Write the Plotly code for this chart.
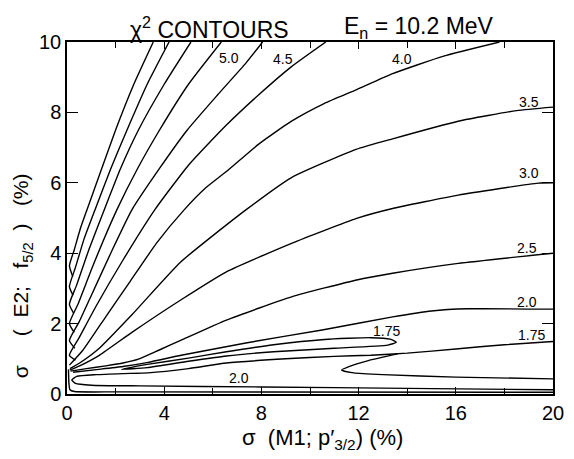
import plotly.graph_objects as go

# ---------------- data ----------------
x_ticks = [0, 4, 8, 12, 16, 20]
x_minor = [2, 6, 10, 14, 18]
y_ticks = [0, 2, 4, 6, 8, 10]

# fan contours: short lower arm -> tip near the y axis -> upper arm to the frame edge
c_a_x = [0.24, 0.1, 0.3, 0.55, 0.82, 1.4, 2.0, 2.75, 3.55]
c_a_y = [3.33, 3.64, 4.1, 4.7, 5.23, 6.35, 7.5, 8.8, 10.0]
c_b_x = [0.25, 0.1, 0.35, 0.7, 1.15, 1.8, 2.47, 3.3, 4.2]
c_b_y = [2.8, 3.05, 3.6, 4.4, 5.23, 6.4, 7.5, 8.8, 10.0]
c_c_x = [0.27, 0.1, 0.4, 0.9, 1.53, 2.2, 2.94, 4.0, 5.1]
c_c_y = [2.3, 2.55, 3.1, 4.1, 5.23, 6.4, 7.5, 8.8, 10.0]
c_d_x = [0.3, 0.1, 0.45, 1.1, 2.05, 2.9, 3.81, 5.0, 6.35]
c_d_y = [1.75, 2.0, 2.55, 3.7, 5.23, 6.4, 7.5, 8.8, 10.0]
c50_x = [0.32, 0.1, 0.5, 1.0, 1.8, 2.67, 3.8, 4.95, 6.2, 7.36, 8.05]
c50_y = [1.3, 1.52, 2.05, 2.8, 4.0, 5.23, 6.4, 7.5, 8.5, 9.4, 10.0]
c45_x = [0.35, 0.1, 0.5, 1.2, 2.3, 3.61, 5.0, 6.56, 7.89, 9.24, 10.65]
c45_y = [0.96, 1.1, 1.6, 2.5, 3.8, 5.23, 6.5, 7.64, 8.5, 9.3, 10.0]
c40_x = [0.1, 0.66, 1.6, 2.6, 3.7, 4.82, 5.7, 6.56, 7.89, 9.24, 10.58, 11.9, 13.4, 15.5, 17.8]
c40_y = [0.82, 1.25, 2.2, 3.2, 4.3, 5.23, 5.85, 6.32, 7.1, 7.75, 8.25, 8.64, 9.1, 9.6, 10.0]
c35_x = [0.12, 0.52, 1.33, 2.67, 4.68, 7.36, 9.24, 11.9, 13.4, 16.1, 18.5, 20.0]
c35_y = [0.72, 0.88, 1.3, 2.25, 3.75, 5.23, 6.15, 6.95, 7.25, 7.75, 8.05, 8.15]
c30_x = [0.12, 0.52, 1.33, 2.67, 4.68, 6.56, 9.24, 11.92, 13.4, 16.1, 19.4, 20.0]
c30_y = [0.68, 0.8, 1.1, 1.75, 2.67, 3.47, 4.28, 4.99, 5.27, 5.65, 5.99, 6.0]
c25_x = [0.15, 0.8, 1.6, 2.3, 2.94, 3.8, 4.7, 6.56, 9.24, 11.92, 13.4, 16.1, 20.0]
c25_y = [0.65, 0.72, 0.8, 0.88, 0.99, 1.25, 1.53, 2.1, 2.76, 3.24, 3.43, 3.71, 4.0]
c20_x = [0.25, 1.3, 2.3, 3.34, 4.7, 7.36, 10.5, 13.4, 15.0, 16.5, 20.0]
c20_y = [0.62, 0.7, 0.78, 0.9, 1.1, 1.45, 1.82, 2.19, 2.36, 2.42, 2.41]

# 1.75 closed island (thin sliver)
isl_x = [2.25, 3.3, 5.0, 6.56, 8.5, 10.6, 12.5, 13.3, 13.55, 13.2, 11.0, 8.5, 6.56, 5.0, 3.3, 2.25]
isl_y = [0.7, 0.84, 1.02, 1.2, 1.4, 1.55, 1.6, 1.56, 1.47, 1.39, 1.3, 1.2, 1.08, 0.93, 0.75, 0.7]
# 1.75 open region at right: tip, lower arm to the right edge, upper arm joining the long line
isr_x = [13.6, 12.4, 11.6, 11.3, 11.8, 13.0, 16.0, 20.0]
isr_y = [1.14, 0.95, 0.78, 0.68, 0.6, 0.55, 0.48, 0.43]
# lower 2.0 loop: bottom arm, tip near the axis, long upper arm to the right edge
low_x = [20.0, 14.0, 8.0, 3.0, 1.0, 0.35, 0.2, 0.4, 1.2, 2.3, 3.34, 5.0, 6.56, 9.0, 11.0, 12.5, 14.0, 16.0, 18.0, 20.0]
low_y = [0.12, 0.16, 0.2, 0.23, 0.25, 0.3, 0.4, 0.5, 0.55, 0.58, 0.6, 0.72, 0.88, 1.0, 1.07, 1.1, 1.16, 1.28, 1.4, 1.49]
# outer line hugging the axes
out_x = [0.06, 0.08, 0.12, 0.3, 2.0, 20.0]
out_y = [0.7, 0.3, 0.12, 0.07, 0.06, 0.05]

contours = [
    (c_a_x, c_a_y), (c_b_x, c_b_y), (c_c_x, c_c_y), (c_d_x, c_d_y),
    (c50_x, c50_y), (c45_x, c45_y), (c40_x, c40_y), (c35_x, c35_y),
    (c30_x, c30_y), (c25_x, c25_y), (c20_x, c20_y),
    (isl_x, isl_y), (isr_x, isr_y), (low_x, low_y), (out_x, out_y),
]

# contour labels (text, x, y)
lab_text = ["5.0", "4.5", "4.0", "3.5", "3.0", "2.5", "2.0", "1.75", "1.75", "2.0"]
lab_x = [6.68, 8.9, 13.8, 19.0, 19.0, 18.95, 18.95, 13.16, 19.1, 7.08]
lab_y = [9.55, 9.52, 9.52, 8.3, 6.28, 4.15, 2.61, 1.79, 1.68, 0.45]

FONT = "Liberation Sans"
NB = "\u00a0"

fig = go.Figure()
for cx, cy in contours:
    fig.add_trace(go.Scatter(x=cx, y=cy, mode="lines",
                             line=dict(color="black", width=1.4, shape="spline", smoothing=0.5),
                             hoverinfo="skip", showlegend=False))

for t, lx, ly in zip(lab_text, lab_x, lab_y):
    fig.add_annotation(x=lx, y=ly, text=t, showarrow=False, xanchor="center", yanchor="middle",
                       font=dict(family=FONT, size=14, color="black"))

# titles
fig.add_annotation(xref="paper", yref="paper", x=0.294, y=1.04, xanchor="center", yanchor="middle",
                   text="χ<sup>2</sup> CONTOURS", showarrow=False,
                   font=dict(family=FONT, size=23, color="black"))
fig.add_annotation(xref="paper", yref="paper", x=0.725, y=1.04, xanchor="center", yanchor="middle",
                   text="E<sub>n</sub> = 10.2 MeV", showarrow=False,
                   font=dict(family=FONT, size=23, color="black"))
fig.add_annotation(xref="paper", yref="paper", x=0.525, y=-0.128, xanchor="center", yanchor="middle",
                   text=f"σ{NB}{NB}(M1;{NB}p′<sub>3/2</sub>){NB}(%)", showarrow=False,
                   font=dict(family=FONT, size=22, color="black"))
fig.add_annotation(xref="paper", yref="paper", x=-0.092, y=0.335, xanchor="center", yanchor="middle",
                   textangle=-90,
                   text=f"σ{NB*5}({NB*2}E2;{NB*3}f<sub>5/2</sub>{NB*2}){NB*3}(%)", showarrow=False,
                   font=dict(family=FONT, size=21, color="black"))

axis_common = dict(showline=True, linecolor="black", linewidth=1.5, mirror="ticks",
                   ticks="inside", tickcolor="black", tickwidth=1.2,
                   showgrid=False, zeroline=False,
                   tickfont=dict(family=FONT, size=20, color="black"))

fig.update_xaxes(range=[0, 20], tickvals=x_ticks, ticktext=[str(v) for v in x_ticks], ticklen=7,
                 minor=dict(tickvals=x_minor, ticks="inside", ticklen=6, tickcolor="black"),
                 **axis_common)
fig.update_yaxes(range=[0, 10], tickvals=y_ticks, ticktext=[str(v) for v in y_ticks], ticklen=11,
                 **axis_common)

fig.update_layout(width=574, height=459, margin=dict(l=67, r=10, t=42, b=65),
                  plot_bgcolor="white", paper_bgcolor="white")

fig.write_html("out.html")
